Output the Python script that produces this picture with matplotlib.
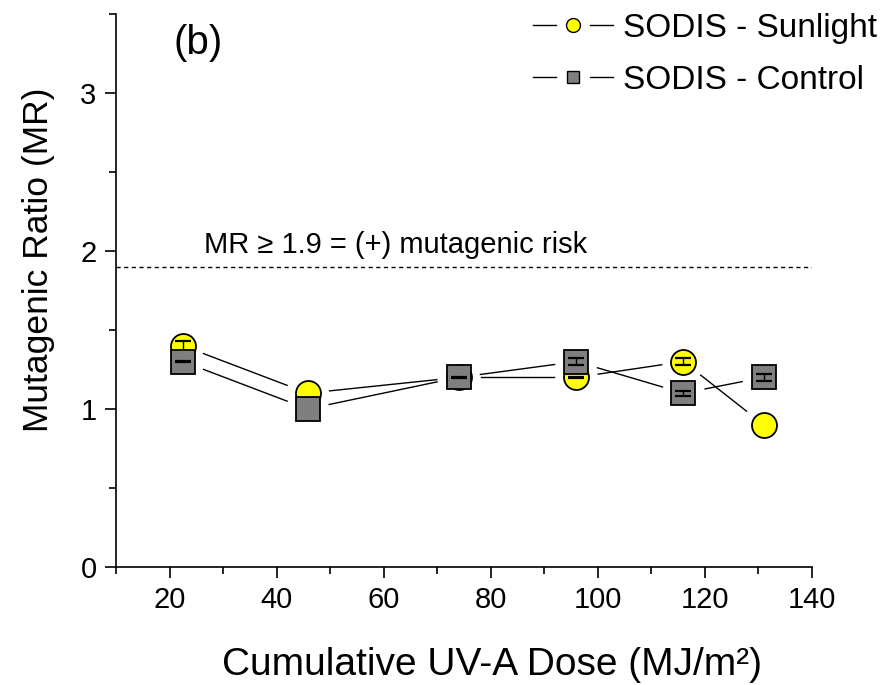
import matplotlib
matplotlib.use("Agg")
import matplotlib.pyplot as plt
from matplotlib.lines import Line2D
from matplotlib.legend_handler import HandlerBase
from matplotlib.ticker import MultipleLocator
import numpy as np

plt.rcParams["font.family"] = ["Liberation Sans", "DejaVu Sans"]

# Cumulative UV-A dose (MJ/m2) and mutagenic ratios (mean, SD)
dose = [22.5, 45.8, 74.0, 96.0, 116.0, 131.0]
mr_sunlight = [1.40, 1.10, 1.20, 1.20, 1.30, 0.90]
err_sunlight = [0.03, 0.0, 0.0, 0.005, 0.02, 0.0]
mr_control = [1.30, 1.00, 1.20, 1.30, 1.10, 1.20]
err_control = [0.005, 0.0, 0.005, 0.02, 0.015, 0.02]
threshold = 1.9
threshold_label = "MR \u2265 1.9 = (+) mutagenic risk"
panel_label = "(b)"
series_labels = ["SODIS - Sunlight", "SODIS - Control"]
x_ticks = [20, 40, 60, 80, 100, 120, 140]
y_ticks = [0, 1, 2, 3]

fig = plt.figure(figsize=(8.87, 6.85), dpi=100)
ax = fig.add_axes([0.1308, 0.1723, 0.7846, 0.8073])
ax.set_xlim(10, 140)
ax.set_ylim(0, 3.5)

for side in ("top", "right"):
    ax.spines[side].set_visible(False)
for side in ("left", "bottom"):
    ax.spines[side].set_linewidth(1.2)

ax.set_xticks(x_ticks)
ax.set_yticks(y_ticks)
ax.xaxis.set_minor_locator(MultipleLocator(10))
ax.yaxis.set_minor_locator(MultipleLocator(0.5))
ax.tick_params(which="major", direction="out", length=8, width=1.2, labelsize=21, pad=6)
ax.tick_params(which="minor", direction="out", length=5, width=1.2)

# threshold line
ax.axhline(threshold, color="black", lw=1.0, linestyle=(0, (3, 2.5)), zorder=1)
ax.text(26.5, threshold + 0.05, threshold_label, fontsize=21, ha="left", va="bottom")
ax.text(0.082, 0.947, panel_label, transform=ax.transAxes, fontsize=29, ha="left", va="center")

fig.canvas.draw()
gap_px = 22.0


def gapped_segments(xs, ys):
    """Connect consecutive points, leaving a gap around each symbol."""
    pts = ax.transData.transform(np.column_stack([xs, ys]))
    inv = ax.transData.inverted()
    for p0, p1 in zip(pts[:-1], pts[1:]):
        d = p1 - p0
        n = np.hypot(*d)
        if n <= 2 * gap_px:
            continue
        u = d / n
        a = inv.transform(p0 + u * gap_px)
        b = inv.transform(p1 - u * gap_px)
        ax.plot([a[0], b[0]], [a[1], b[1]], color="black", lw=1.0, zorder=2)


def error_marks(xs, ys, errs, z):
    """Error bars drawn over the symbols; zero deviations are left out."""
    xs, ys, errs = map(np.asarray, (xs, ys, errs))
    keep = errs > 0
    ax.errorbar(xs[keep], ys[keep], yerr=errs[keep], fmt="none", ecolor="black",
                elinewidth=1.0, capsize=5.5, capthick=1.6, zorder=z)


gapped_segments(dose, mr_sunlight)
gapped_segments(dose, mr_control)

sun, = ax.plot(dose, mr_sunlight, ls="none", marker="o", ms=18, mfc="#ffff00",
               mec="black", mew=1.3, zorder=3)
error_marks(dose, mr_sunlight, err_sunlight, 3.5)
ctl, = ax.plot(dose, mr_control, ls="none", marker="s", ms=17, mfc="#7f7f7f",
               mec="black", mew=1.3, zorder=4)
error_marks(dose, mr_control, err_control, 4.5)

ax.set_xlabel("Cumulative UV-A Dose (MJ/m\u00b2)", fontsize=28)
ax.xaxis.set_label_coords(0.54, -0.145)
ax.set_ylabel("Mutagenic Ratio (MR)", fontsize=25.5)
ax.yaxis.set_label_coords(-0.088, 0.555)


class GappedLineHandler(HandlerBase):
    """Legend key: short line, symbol, short line."""

    def __init__(self, marker, face, size):
        super().__init__()
        self.marker, self.face, self.size = marker, face, size

    def create_artists(self, legend, orig_handle, xdescent, ydescent,
                       width, height, fontsize, trans):
        y = height / 2 - ydescent
        x0 = -xdescent
        seg = width * 0.29
        left = Line2D([x0, x0 + seg], [y, y], color="black", lw=1.0)
        right = Line2D([x0 + width - seg, x0 + width], [y, y], color="black", lw=1.0)
        mk = Line2D([x0 + width / 2], [y], ls="none", marker=self.marker, ms=self.size,
                    mfc=self.face, mec="black", mew=1.0)
        for a in (left, right, mk):
            a.set_transform(trans)
        return [left, right, mk]


ax.legend([sun, ctl], series_labels,
          handler_map={sun: GappedLineHandler("o", "#ffff00", 10),
                       ctl: GappedLineHandler("s", "#7f7f7f", 9)},
          loc="upper left", bbox_to_anchor=(0.58, 1.026), frameon=False,
          fontsize=24, handlelength=2.4, handletextpad=0.3, labelspacing=0.62,
          borderaxespad=0.0)

fig.savefig("out.png", dpi=100)
